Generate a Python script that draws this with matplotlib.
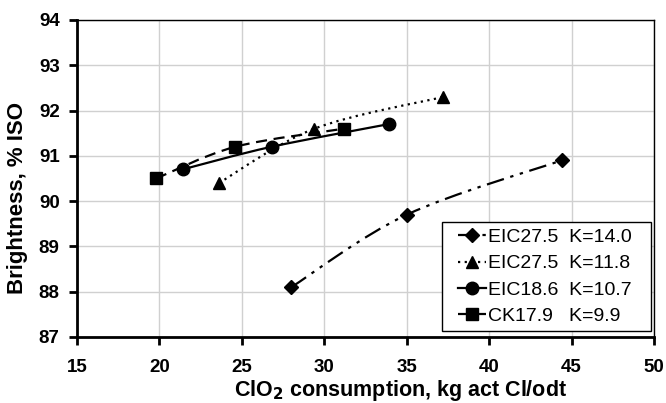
import numpy as np
import matplotlib
matplotlib.use("Agg")
import matplotlib.pyplot as plt
from matplotlib.path import Path
from matplotlib.patches import PathPatch, Rectangle
from matplotlib.lines import Line2D
from matplotlib.transforms import IdentityTransform

plt.rcParams["font.family"] = ["Liberation Sans", "DejaVu Sans"]

# Data
eic275_k140_x = [28.0, 35.0, 44.4]
eic275_k140_y = [88.1, 89.7, 90.9]
eic275_k118_x = [23.6, 29.4, 37.2]
eic275_k118_y = [90.4, 91.6, 92.3]
eic186_k107_x = [21.4, 26.8, 33.9]
eic186_k107_y = [90.7, 91.2, 91.7]
ck179_k99_x = [19.8, 24.6, 31.2]
ck179_k99_y = [90.5, 91.2, 91.6]

labels = ["EIC27.5  K=14.0", "EIC27.5  K=11.8", "EIC18.6  K=10.7", "CK17.9   K=9.9"]
markers = ["D", "^", "o", "s"]
marker_sizes = [7, 8.5, 9, 8]
linestyles = [(0, (8, 3, 1.5, 3, 1.5, 3)), (0, (1, 2)), "-", (0, (5, 3))]

series = [
    (eic275_k140_x, eic275_k140_y),
    (eic275_k118_x, eic275_k118_y),
    (eic186_k107_x, eic186_k107_y),
    (ck179_k99_x, ck179_k99_y),
]


def smooth_path(x, y):
    # Catmull-Rom style bezier, like Excel's smoothed line
    pts = np.column_stack([x, y])
    verts = [pts[0]]
    codes = [Path.MOVETO]
    n = len(pts)
    for i in range(n - 1):
        p0 = pts[i - 1] if i > 0 else pts[i]
        p1 = pts[i]
        p2 = pts[i + 1]
        p3 = pts[i + 2] if i + 2 < n else pts[i + 1]
        c1 = p1 + (p2 - p0) / 6.0
        c2 = p2 - (p3 - p1) / 6.0
        verts += [c1, c2, p2]
        codes += [Path.CURVE4] * 3
    return Path(verts, codes)


fig = plt.figure(figsize=(6.66, 4.03), dpi=100)
ax = fig.add_axes([0.1156, 0.1638, 0.8664, 0.7866])

handles = []
for (x, y), lab, m, ms, ls in zip(series, labels, markers, marker_sizes, linestyles):
    patch = PathPatch(smooth_path(x, y), facecolor="none", edgecolor="black",
                      linewidth=1.6, linestyle=ls, zorder=3)
    ax.add_patch(patch)
    ax.plot(x, y, linestyle="none", marker=m, markersize=ms, color="black", zorder=4)
    handles.append(Line2D([], [], color="black", linewidth=1.6, linestyle=ls,
                          marker=m, markersize=ms, label=lab))

ax.set_xlim(15, 50)
ax.set_ylim(87, 94)
ax.set_xticks(np.arange(15, 51, 5))
ax.set_yticks(np.arange(87, 95, 1))
ax.grid(True, color="#d0d0d0", linewidth=1.0)
ax.set_axisbelow(True)

for side in ["left", "bottom"]:
    ax.spines[side].set_linewidth(2.0)
for side in ["top", "right"]:
    ax.spines[side].set_linewidth(1.0)

ax.tick_params(direction="out", length=6, width=2, labelsize=13.5)
ax.tick_params(axis="y", pad=6.5)
ax.tick_params(axis="x", pad=10)
for lbl in ax.get_xticklabels() + ax.get_yticklabels():
    lbl.set_fontweight("bold")

ax.set_xlabel("ClO$_\\mathbf{2}$ consumption, kg act Cl/odt", fontsize=15.5,
              fontweight="bold", va="baseline")
ax.set_ylabel("Brightness, % ISO", fontsize=16, fontweight="bold")
# axis titles are centred on the chart area, not the plot area
ax.xaxis.set_label_coords(0.5607, -0.186)
ax.yaxis.set_label_coords(-0.0849, 0.4385)

leg = ax.legend(handles=handles, loc="lower right", fontsize=14, frameon=False,
                bbox_to_anchor=(1 - 19 / 577, 9 / 317), borderaxespad=0,
                handlelength=1.45, handletextpad=0.1, labelspacing=0.45,
                borderpad=0.15)
leg.set_zorder(6)

# legend frame with wider side padding than top/bottom
fig.canvas.draw()
bb = leg.get_window_extent()
frame = Rectangle((bb.x0 - 13, bb.y0 - 3), bb.width + 29, bb.height + 6,
                  transform=IdentityTransform(), facecolor="white",
                  edgecolor="black", linewidth=1.0, zorder=5)
ax.add_artist(frame)

fig.savefig("out.png", dpi=100)
